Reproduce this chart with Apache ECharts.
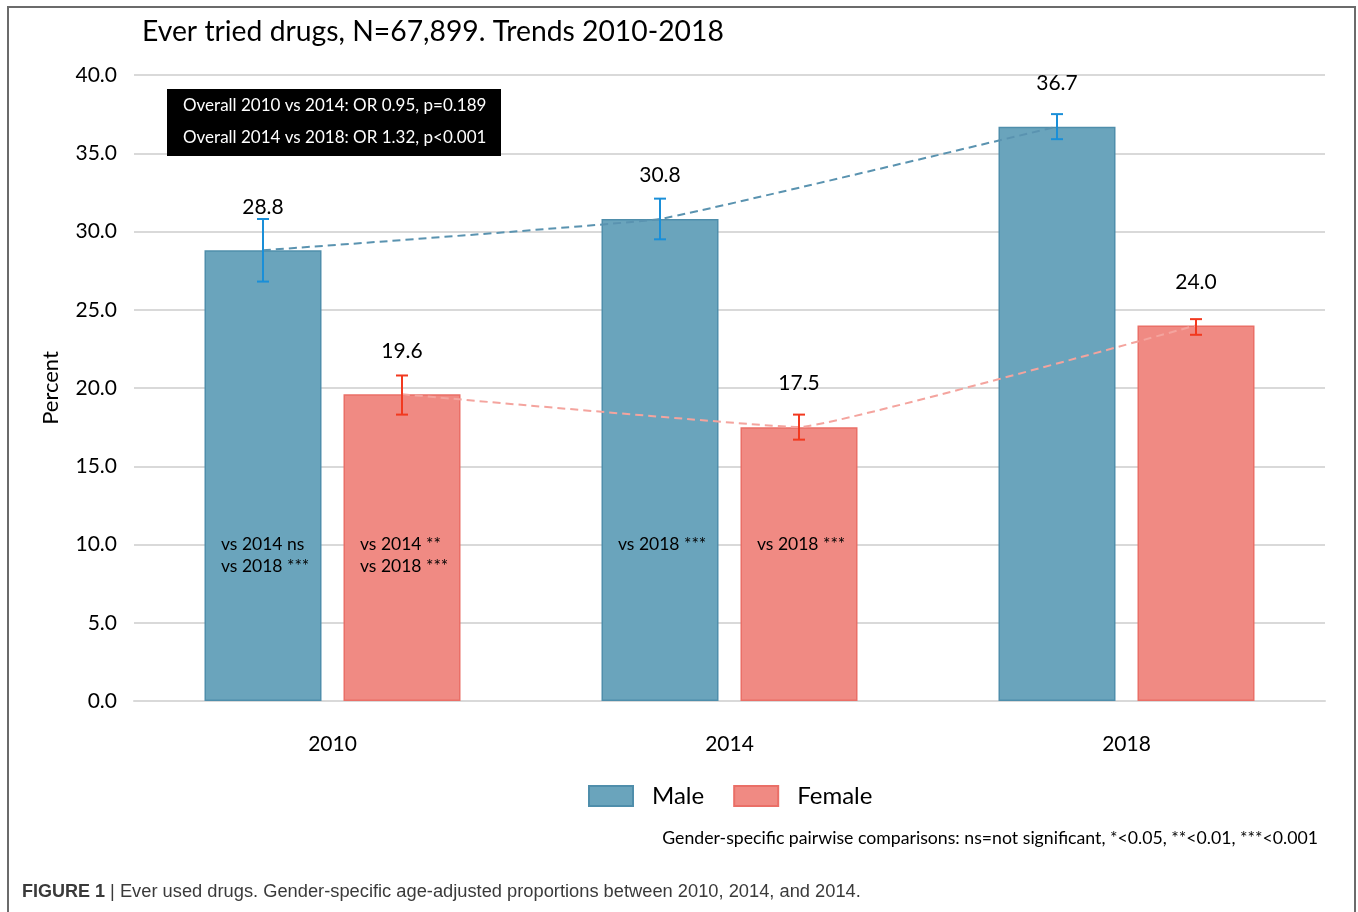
<!DOCTYPE html>
<html><head><meta charset="utf-8">
<script src="https://cdn.jsdelivr.net/npm/echarts@6/dist/echarts.min.js"></script>
<style>html,body{margin:0;padding:0;background:#fff}#c{width:1358px;height:912px}</style>
</head><body><div id="c"></div>
<script>
// ---- data ----
const categories = ['2010', '2014', '2018'];
const seriesNames = ['Male', 'Female'];
const maleValues = [28.8, 30.8, 36.7];
const femaleValues = [19.6, 17.5, 24.0];
const maleCILow = [26.8, 29.5, 35.9];
const maleCIHigh = [30.8, 32.1, 37.5];
const femaleCILow = [18.3, 16.7, 23.4];
const femaleCIHigh = [20.8, 18.3, 24.4];
const maleNotes = ['vs 2014 ns\nvs 2018 ***', 'vs 2018 ***', ''];
const femaleNotes = ['vs 2014 **\nvs 2018 ***', 'vs 2018 ***', ''];
const noteLevel = [10, 10, 10];
const yMin = 0, yMax = 40, yStep = 5;
const titleText = 'Ever tried drugs, N=67,899. Trends 2010-2018';
const boxLines = ['Overall 2010 vs 2014: OR 0.95, p=0.189', 'Overall 2014 vs 2018: OR 1.32, p<0.001'];
const footnote = 'Gender-specific pairwise comparisons: ns=not significant, *<0.05, **<0.01, ***<0.001';
const captionBold = 'FIGURE 1';
const captionText = ' | Ever used drugs. Gender-specific age-adjusted proportions between 2010, 2014, and 2014.';

// ---- layout ----
const W = 1358, H = 912;
const GL = 134, GR = 33, GT = 75, GB = 211;
const BAR_W = 117, BAR_GAP = 22;
const bandPx = (W - GL - GR) / categories.length;
const off = (BAR_W + BAR_GAP) / 2 / bandPx;
const FONT = 'Lato';
const maleColor = '#6aa4bc', maleBorder = '#4f8eab';
const femaleColor = '#f08a83', femaleBorder = '#ea6f67';

function errSeries(lo, hi, sign, color) {
  return {
    type: 'custom', xAxisIndex: 1, yAxisIndex: 0, z: 10, silent: true,
    data: lo.map((l, i) => [i + sign * off, l, hi[i]]),
    encode: {x: 0, y: [1, 2]},
    renderItem: function (params, api) {
      const x = api.value(0);
      const pLo = api.coord([x, api.value(1)]);
      const pHi = api.coord([x, api.value(2)]);
      const cw = 6;
      const st = {stroke: color, lineWidth: 2, fill: null};
      return {type: 'group', children: [
        {type: 'line', shape: {x1: pLo[0], y1: pLo[1], x2: pHi[0], y2: pHi[1]}, style: st},
        {type: 'line', shape: {x1: pLo[0] - cw, y1: pLo[1], x2: pLo[0] + cw, y2: pLo[1]}, style: st},
        {type: 'line', shape: {x1: pHi[0] - cw, y1: pHi[1], x2: pHi[0] + cw, y2: pHi[1]}, style: st}
      ]};
    }
  };
}
function noteSeries(notes, sign) {
  return {
    type: 'custom', xAxisIndex: 1, yAxisIndex: 0, z: 11, silent: true,
    data: notes.map((n, i) => [i + sign * off, noteLevel[i]]),
    renderItem: function (params, api) {
      const p = api.coord([api.value(0), api.value(1)]);
      return {type: 'text', x: p[0] - 42, y: p[1] - 11,
        style: {text: notes[params.dataIndex], fill: '#000', font: '17.5px ' + FONT,
          align: 'left', verticalAlign: 'top', lineHeight: 22}};
    }
  };
}
function trendSeries(vals, sign, color) {
  return {
    type: 'line', xAxisIndex: 1, yAxisIndex: 0, z: 5, silent: true,
    data: vals.map((v, i) => [i + sign * off, v]),
    smooth: 0.08, showSymbol: false, symbol: 'none',
    lineStyle: {color: color, width: 2, type: [8, 5]}
  };
}

const chart = echarts.init(document.getElementById('c'), null, {renderer: 'canvas'});
chart.setOption({
  backgroundColor: '#fff',
  animation: false,
  textStyle: {fontFamily: FONT},
  grid: {left: GL, right: GR, top: GT, bottom: GB},
  legend: {
    data: seriesNames, left: 583, top: 779, icon: 'rect', itemWidth: 44, itemHeight: 20,
    itemGap: 29, textStyle: {fontSize: 24, color: '#000', fontFamily: FONT, padding: [0, 0, 0, 14]}
  },
  xAxis: [
    {type: 'category', data: categories, axisTick: {show: false},
      axisLine: {lineStyle: {color: '#d9d9d9', width: 2}},
      axisLabel: {fontSize: 21, color: '#000', margin: 33, fontFamily: FONT}},
    {type: 'value', min: -0.5, max: categories.length - 0.5, show: false}
  ],
  yAxis: {
    type: 'value', min: yMin, max: yMax, interval: yStep,
    name: 'Percent', nameLocation: 'middle', nameGap: 72, nameRotate: 90,
    nameTextStyle: {fontSize: 22, color: '#000', fontFamily: FONT},
    axisLine: {show: false}, axisTick: {show: false},
    axisLabel: {fontSize: 21, color: '#000', margin: 17, formatter: v => v.toFixed(1), fontFamily: FONT},
    splitLine: {lineStyle: {color: '#d9d9d9', width: 2}}
  },
  series: [
    {name: 'Male', type: 'bar', data: maleValues, barWidth: BAR_W, barGap: (BAR_GAP / BAR_W * 100) + '%', z: 2,
      itemStyle: {color: maleColor, borderColor: maleBorder, borderWidth: 1.5},
      label: {show: true, position: 'top', distance: 33, fontSize: 21, color: '#000', fontFamily: FONT,
        formatter: p => p.value.toFixed(1)}},
    {name: 'Female', type: 'bar', data: femaleValues, barWidth: BAR_W, z: 2,
      itemStyle: {color: femaleColor, borderColor: femaleBorder, borderWidth: 1.5},
      label: {show: true, position: 'top', distance: 33, fontSize: 21, color: '#000', fontFamily: FONT,
        formatter: p => p.value.toFixed(1)}},
    trendSeries(maleValues, -1, '#5a93b0'),
    trendSeries(femaleValues, 1, '#f4a49e'),
    errSeries(maleCILow, maleCIHigh, -1, '#1a8fd8'),
    errSeries(femaleCILow, femaleCIHigh, 1, '#f2391f'),
    noteSeries(maleNotes, -1),
    noteSeries(femaleNotes, 1)
  ],
  graphic: [
    {type: 'rect', shape: {x: 8, y: 7, width: 1347, height: 940}, style: {fill: null, stroke: '#6b6b6b', lineWidth: 2}, silent: true},
    {type: 'text', x: 142, y: 32, style: {text: titleText, font: '28.3px ' + FONT, fill: '#000', verticalAlign: 'middle'}},
    {type: 'rect', shape: {x: 167, y: 89, width: 334, height: 67}, style: {fill: '#000'}, z: 20},
    {type: 'text', x: 183, y: 106, z: 21, style: {text: boxLines[0], font: '17px ' + FONT, fill: '#fff', verticalAlign: 'middle'}},
    {type: 'text', x: 183, y: 138, z: 21, style: {text: boxLines[1], font: '17px ' + FONT, fill: '#fff', verticalAlign: 'middle'}},
    {type: 'text', x: 1318, y: 838, style: {text: footnote, font: '17.7px ' + FONT, fill: '#000', align: 'right', verticalAlign: 'middle'}},
    {type: 'text', x: 22, y: 892, style: {
      text: '{b|' + captionBold + '}' + captionText, verticalAlign: 'middle',
      font: '18.3px "Liberation Sans"', fill: '#3a3a3a',
      rich: {b: {fontWeight: 'bold', fontSize: 18, fontFamily: 'Liberation Sans', fill: '#3a3a3a'}}}}
  ]
});
</script></body></html>
